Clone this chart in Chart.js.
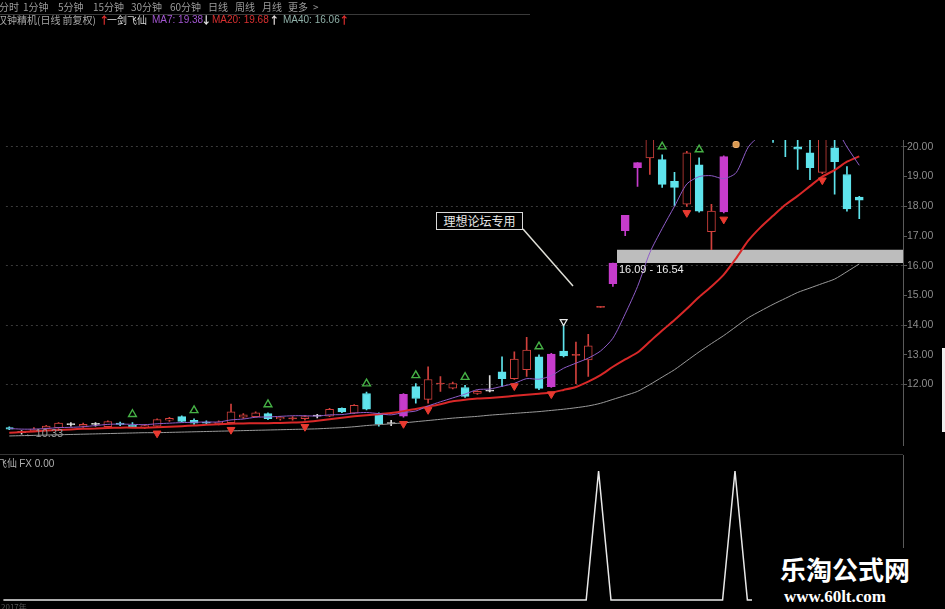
<!DOCTYPE html>
<html>
<head>
<meta charset="utf-8">
<script src="https://cdn.jsdelivr.net/npm/chart.js@4.4.1/dist/chart.umd.min.js"></script>
<style>
html, body { margin: 0; padding: 0; background: #000; }
body { width: 945px; height: 609px; position: relative; overflow: hidden; font-family: "Noto Sans CJK SC", "Noto Sans", sans-serif; }
canvas { position: absolute; left: 0; }
.t { position: absolute; white-space: nowrap; font-size: 10.5px; line-height: 12px; }
.nav { color: #9c9c9c; top: 1px; font-size: 10px; }
.lg { top: 14px; }
</style>
</head>
<body>
<canvas id="main" width="945" height="452" style="top:0"></canvas>
<canvas id="sub" width="945" height="157" style="top:452px"></canvas>

<!-- top menu -->
<span class="t nav" style="left:-1px">分时</span>
<span class="t nav" style="left:23px">1分钟</span>
<span class="t nav" style="left:58px">5分钟</span>
<span class="t nav" style="left:93px">15分钟</span>
<span class="t nav" style="left:131px">30分钟</span>
<span class="t nav" style="left:170px">60分钟</span>
<span class="t nav" style="left:208px">日线</span>
<span class="t nav" style="left:235px">周线</span>
<span class="t nav" style="left:262px">月线</span>
<span class="t nav" style="left:288px">更多</span>
<span class="t nav" style="left:313px">&gt;</span>
<div style="position:absolute;left:0;top:14px;width:530px;height:1px;background:#3a3a3a"></div>

<!-- indicator legend -->
<span class="t lg" style="left:-3px;color:#a8a8a8;font-size:10px">汉钟精机(日线 前复权)</span>
<span class="t lg" style="left:99px;color:#e83030;font-weight:bold">↑</span>
<span class="t lg" style="left:107px;color:#d4d4d4;font-size:10px">一剑飞仙</span>
<span class="t lg" style="left:152px;color:#a256d0;font-family:'Liberation Sans',sans-serif;font-size:10px">MA7: 19.38</span>
<span class="t lg" style="left:201px;color:#e8e8e8;font-weight:bold">↓</span>
<span class="t lg" style="left:212px;color:#d83030;font-family:'Liberation Sans',sans-serif;font-size:10px">MA20: 19.68</span>
<span class="t lg" style="left:269px;color:#e8e0e0;font-weight:bold">↑</span>
<span class="t lg" style="left:283px;color:#8fb0a8;font-family:'Liberation Sans',sans-serif;font-size:10px">MA40: 16.06</span>
<span class="t lg" style="left:339px;color:#e83030;font-weight:bold">↑</span>

<!-- annotation -->
<div style="position:absolute;left:436px;top:212px;width:85px;height:16px;border:1.5px solid #d8d8d8;background:#000;color:#e8e8e8;font-size:12px;line-height:16px;text-align:center">理想论坛专用</div>
<svg style="position:absolute;left:0;top:0;pointer-events:none" width="945" height="609">
  <line x1="523" y1="229" x2="573" y2="286" stroke="#e0e0d8" stroke-width="1.5"/>
</svg>
<div style="position:absolute;left:942px;top:348px;width:3px;height:84px;background:#eee"></div>

<!-- sub panel -->
<div style="position:absolute;left:0;top:454px;width:903px;height:1px;background:#353535"></div>
<span class="t" style="left:-3px;top:457px;color:#b0b0b0;font-size:10px">飞仙 <span style="font-family:'Liberation Sans',sans-serif">FX 0.00</span></span>
<span class="t" style="left:1px;top:601px;color:#555;font-size:8px">2017年</span>

<!-- watermark -->
<div style="position:absolute;left:752px;top:548px;width:193px;height:61px;background:#000"></div>
<span class="t" style="left:780px;top:553px;color:#fff;font-size:26px;line-height:32px;font-weight:bold">乐淘公式网</span>
<span class="t" style="left:784px;top:588px;color:#fff;font-size:17px;line-height:18px;font-weight:bold;font-family:'Liberation Serif',serif">www.60lt.com</span>

<script>
// daily candles, index 0..69
const opens  = [10.55,10.38,10.45,10.52,10.55,10.65,10.60,10.66,10.58,10.70,
                10.64,10.55,10.60,10.80,10.92,10.80,10.74,10.68,10.72,10.90,
                10.92,11.02,10.84,10.84,10.85,10.94,10.94,11.20,11.04,11.70,
                10.98,10.69,10.94,11.93,11.50,12.02,11.88,11.90,11.70,11.78,
                12.43,12.20,12.50,12.93,11.93,13.13,12.98,12.83,14.60,15.40,
                17.18,19.30,19.63,19.57,18.84,18.07,19.40,17.15,17.81,20.50,
                21.60,22.80,21.50,21.00,20.00,19.80,19.14,19.97,19.07,18.31];
const highs  = [10.58,10.45,10.55,10.63,10.72,10.72,10.70,10.72,10.78,10.74,
                10.72,10.65,10.85,10.90,10.95,10.85,10.78,10.78,11.34,11.02,
                11.08,11.05,10.93,10.92,10.96,11.00,11.20,11.22,11.33,11.75,
                11.05,10.80,11.70,12.03,12.60,12.27,12.08,11.97,11.80,12.30,
                12.93,13.10,13.59,13.00,13.05,14.02,13.43,13.69,14.63,16.09,
                17.70,19.47,21.30,19.73,19.14,19.85,19.63,18.07,19.70,21.64,
                23.00,23.50,22.00,21.30,20.30,20.30,20.60,20.30,19.34,18.34];
const lows   = [10.48,10.33,10.42,10.48,10.52,10.60,10.56,10.60,10.55,10.62,
                10.55,10.52,10.58,10.76,10.74,10.66,10.66,10.64,10.70,10.86,
                10.90,10.82,10.80,10.80,10.80,10.88,10.92,11.05,11.02,11.15,
                10.60,10.62,10.90,11.37,11.37,11.77,11.85,11.57,11.67,11.75,
                11.93,12.17,12.27,11.83,11.90,12.93,12.03,12.27,14.60,15.30,
                17.01,18.67,19.07,18.64,18.01,18.00,17.80,16.54,17.78,20.30,
                21.20,21.80,20.15,19.67,19.24,18.90,19.10,18.41,17.84,17.58];
const closes = [10.50,10.38,10.50,10.60,10.70,10.65,10.66,10.66,10.75,10.66,
                10.58,10.62,10.82,10.86,10.76,10.70,10.70,10.74,11.08,10.98,
                11.05,10.85,10.90,10.88,10.92,10.94,11.17,11.08,11.30,11.17,
                10.67,10.69,11.67,11.53,12.17,12.05,12.03,11.60,11.77,11.78,
                12.20,12.86,13.16,11.87,13.03,12.96,13.02,13.30,14.63,16.09,
                17.70,19.47,20.90,18.74,18.64,19.80,17.84,17.84,19.67,21.40,
                22.50,22.20,21.00,20.50,19.92,19.30,20.40,19.50,17.91,18.21];

// moving averages
const ma7  = [10.52,10.50,10.50,10.52,10.55,10.56,10.58,10.62,10.66,10.67,
              10.66,10.65,10.68,10.70,10.72,10.73,10.74,10.74,10.81,10.84,
              10.90,10.91,10.93,10.95,10.95,10.94,10.98,10.99,11.04,11.06,
              11.02,10.98,11.06,11.11,11.28,11.42,11.55,11.68,11.83,11.85,
              11.94,12.04,12.20,12.18,12.30,12.55,12.72,12.89,13.13,13.56,
              14.38,15.30,16.44,17.25,18.00,18.75,19.00,19.03,18.93,19.13,
              20.00,20.40,20.55,20.50,20.65,20.96,20.97,20.69,20.00,19.38];
const ma20 = [10.38,10.40,10.42,10.45,10.47,10.49,10.51,10.52,10.54,10.55,
              10.55,10.55,10.56,10.58,10.60,10.62,10.65,10.66,10.68,10.69,
              10.70,10.70,10.71,10.72,10.74,10.78,10.83,10.88,10.93,10.97,
              11.00,11.04,11.10,11.18,11.26,11.34,11.44,11.49,11.53,11.55,
              11.58,11.62,11.66,11.69,11.73,11.82,11.92,12.10,12.32,12.60,
              12.85,13.08,13.45,13.82,14.17,14.55,14.95,15.30,15.70,16.25,
              16.85,17.30,17.68,18.05,18.35,18.68,19.00,19.22,19.50,19.68];
const ma40 = [10.27,10.28,10.29,10.30,10.31,10.32,10.33,10.34,10.35,10.36,
              10.37,10.38,10.38,10.39,10.40,10.41,10.42,10.43,10.44,10.45,
              10.46,10.47,10.48,10.49,10.50,10.51,10.53,10.55,10.58,10.62,
              10.65,10.68,10.71,10.75,10.79,10.83,10.87,10.90,10.93,10.97,
              11.00,11.03,11.06,11.09,11.13,11.17,11.22,11.28,11.37,11.50,
              11.63,11.77,12.00,12.25,12.50,12.80,13.10,13.38,13.65,13.95,
              14.25,14.48,14.70,14.90,15.10,15.25,15.40,15.55,15.80,16.06];

// signals
const signalDays = [32, 44, 49, 50, 51, 58];          // magenta candles
const buyMarks   = [10, 15, 21, 29, 33, 37, 43, 53, 56];
const sellMarks  = [12, 18, 24, 32, 34, 41, 44, 55, 58, 66];
const peakMarks  = [45];
const handMarks  = [59];
const gapStart = 49;
const gapRange = [16.09, 16.54];
const fxValues = [0,0,0,0,0,0,0,0,0,0, 0,0,0,0,0,0,0,0,0,0,
                  0,0,0,0,0,0,0,0,0,0, 0,0,0,0,0,0,0,0,0,0,
                  0,0,0,0,0,0,0,0,1,0, 0,0,0,0,0,0,0,0,0,1,
                  0,0,0,0,0,0,0,0,0,0];
const yTicks = [12, 13, 14, 15, 16, 17, 18, 19, 20];

const RED = '#d0403c', CYAN = '#5fe3ec', MAGENTA = '#c63ccc', WHITE = '#dcdcdc';
const xMin = -0.274, xMax = 72.55;

function candleColor(i) {
    if (signalDays.includes(i)) return MAGENTA;
    if (closes[i] > opens[i]) return RED;
    if (closes[i] < opens[i]) return CYAN;
    return WHITE;
}
function isHollow(i) {
    // very thin up-bodies are drawn solid so they read as a dash
    return !signalDays.includes(i) && closes[i] - opens[i] > 0.05;
}

const bodies = opens.map((o, i) => ({x: i, y: [Math.min(o, closes[i]), Math.max(o, closes[i])]}));
const wicks = [];
opens.forEach((o, i) => {
    wicks.push({x: i, y: [Math.max(o, closes[i]), highs[i]]});
    wicks.push({x: i, y: [lows[i], Math.min(o, closes[i])]});
});
const asPoints = arr => arr.map((v, i) => ({x: i, y: v}));

const priceLabels = {
    id: 'priceLabels',
    afterDatasetsDraw(chart) {
        const {ctx, scales: {x, y}} = chart;
        ctx.save();
        ctx.font = '11px "Liberation Sans", sans-serif';
        ctx.fillStyle = '#ececec';
        ctx.textBaseline = 'top';
        ctx.fillText(gapRange[0].toFixed(2) + ' - ' + gapRange[1].toFixed(2),
            x.getPixelForValue(gapStart) + 6, y.getPixelForValue(gapRange[0]) + 1);
        let lo = 0;
        lows.forEach((v, i) => { if (v < lows[lo]) lo = i; });
        ctx.fillStyle = '#9c9c9c';
        ctx.textBaseline = 'middle';
        ctx.fillText('←' + lows[lo].toFixed(2), x.getPixelForValue(lo) + 3, y.getPixelForValue(lows[lo]));
        ctx.restore();
    }
};

new Chart(document.getElementById('main'), {
    type: 'bar',
    data: {
        datasets: [
            {
                type: 'line', order: 0, showLine: false,
                data: buyMarks.map(i => ({x: i, y: highs[i] + 0.28})),
                pointStyle: 'triangle', pointRadius: 4.5, pointBorderWidth: 1.4,
                pointBorderColor: '#45b045', pointBackgroundColor: 'rgba(0,0,0,0)'
            },
            {
                type: 'line', order: 0, showLine: false,
                data: sellMarks.map(i => ({x: i, y: lows[i] - 0.22})),
                pointStyle: 'triangle', rotation: 180, pointRadius: 4.5, pointBorderWidth: 1,
                pointBorderColor: '#e83a30', pointBackgroundColor: '#e83a30'
            },
            {
                type: 'line', order: 0, showLine: false,
                data: peakMarks.map(i => ({x: i, y: highs[i] + 0.1})),
                pointStyle: 'triangle', rotation: 180, pointRadius: 4, pointBorderWidth: 1.2,
                pointBorderColor: '#e8e8e8', pointBackgroundColor: 'rgba(0,0,0,0)'
            },
            {
                type: 'line', order: 0, showLine: false,
                data: handMarks.map(i => ({x: i, y: lows[i] - 0.22})),
                pointStyle: 'rectRounded', pointRadius: 3.5, pointBorderWidth: 1,
                pointBorderColor: '#f0b070', pointBackgroundColor: '#d89850'
            },
            {
                type: 'line', order: 1, data: asPoints(ma7),
                borderColor: '#8e5cc8', borderWidth: 1, pointRadius: 0, tension: 0.25
            },
            {
                type: 'line', order: 1, data: asPoints(ma20),
                borderColor: '#d82828', borderWidth: 2, pointRadius: 0, tension: 0.25
            },
            {
                type: 'line', order: 1, data: asPoints(ma40),
                borderColor: '#9a9a9a', borderWidth: 1, pointRadius: 0, tension: 0.25
            },
            {
                order: 2, data: bodies, grouped: false, barThickness: 8, minBarLength: 1,
                borderWidth: 1, borderSkipped: false,
                backgroundColor: c => c.raw ? (isHollow(c.raw.x) ? '#000' : candleColor(c.raw.x)) : RED,
                borderColor: c => c.raw ? candleColor(c.raw.x) : RED
            },
            {
                order: 3, data: wicks, grouped: false, barThickness: 1,
                backgroundColor: c => c.raw ? candleColor(c.raw.x) : RED
            },
            {
                type: 'line', order: 4,
                data: [{x: gapStart + 0.33, y: gapRange[1]}, {x: xMax, y: gapRange[1]}],
                borderWidth: 0, pointRadius: 0, fill: {value: gapRange[0]}, backgroundColor: '#bdbdbd'
            }
        ]
    },
    options: {
        responsive: false,
        animation: false,
        devicePixelRatio: 1,
        layout: {padding: {top: 140, bottom: 2, left: 0, right: 0}},
        plugins: {legend: {display: false}, tooltip: {enabled: false}},
        scales: {
            x: {type: 'linear', min: xMin, max: xMax, offset: false, display: false},
            y: {
                position: 'right', min: 9.942, max: 20.232,
                afterBuildTicks: s => { s.ticks = yTicks.map(v => ({value: v})); },
                afterFit: s => { s.width = 42; },
                ticks: {
                    color: '#8c8c8c', padding: 0, autoSkip: false,
                    font: {size: 10.5, family: '"Liberation Sans", sans-serif'},
                    callback: v => Number(v).toFixed(2)
                },
                grid: {
                    color: c => (c.tick && c.tick.value % 2 === 0) ? '#3a3a3a' : 'rgba(0,0,0,0)',
                    tickColor: '#5a5a5a', tickLength: 4
                },
                border: {display: true, color: '#5a5a5a', dash: [2, 3]}
            }
        }
    },
    plugins: [priceLabels]
});

new Chart(document.getElementById('sub'), {
    type: 'line',
    data: {
        datasets: [{
            data: asPoints(fxValues), borderColor: '#e8e8e8', borderWidth: 1.5,
            pointRadius: 0, tension: 0, clip: 4
        }]
    },
    options: {
        responsive: false,
        animation: false,
        devicePixelRatio: 1,
        layout: {padding: {top: 3, bottom: 9, left: 0, right: 0}},
        plugins: {legend: {display: false}, tooltip: {enabled: false}},
        scales: {
            x: {type: 'linear', min: xMin, max: xMax, offset: false, display: false},
            y: {
                position: 'right', min: 0, max: 1.124,
                afterFit: s => { s.width = 42; },
                ticks: {display: false},
                grid: {display: false},
                border: {display: true, color: '#5a5a5a'}
            }
        }
    }
});
</script>
</body>
</html>
